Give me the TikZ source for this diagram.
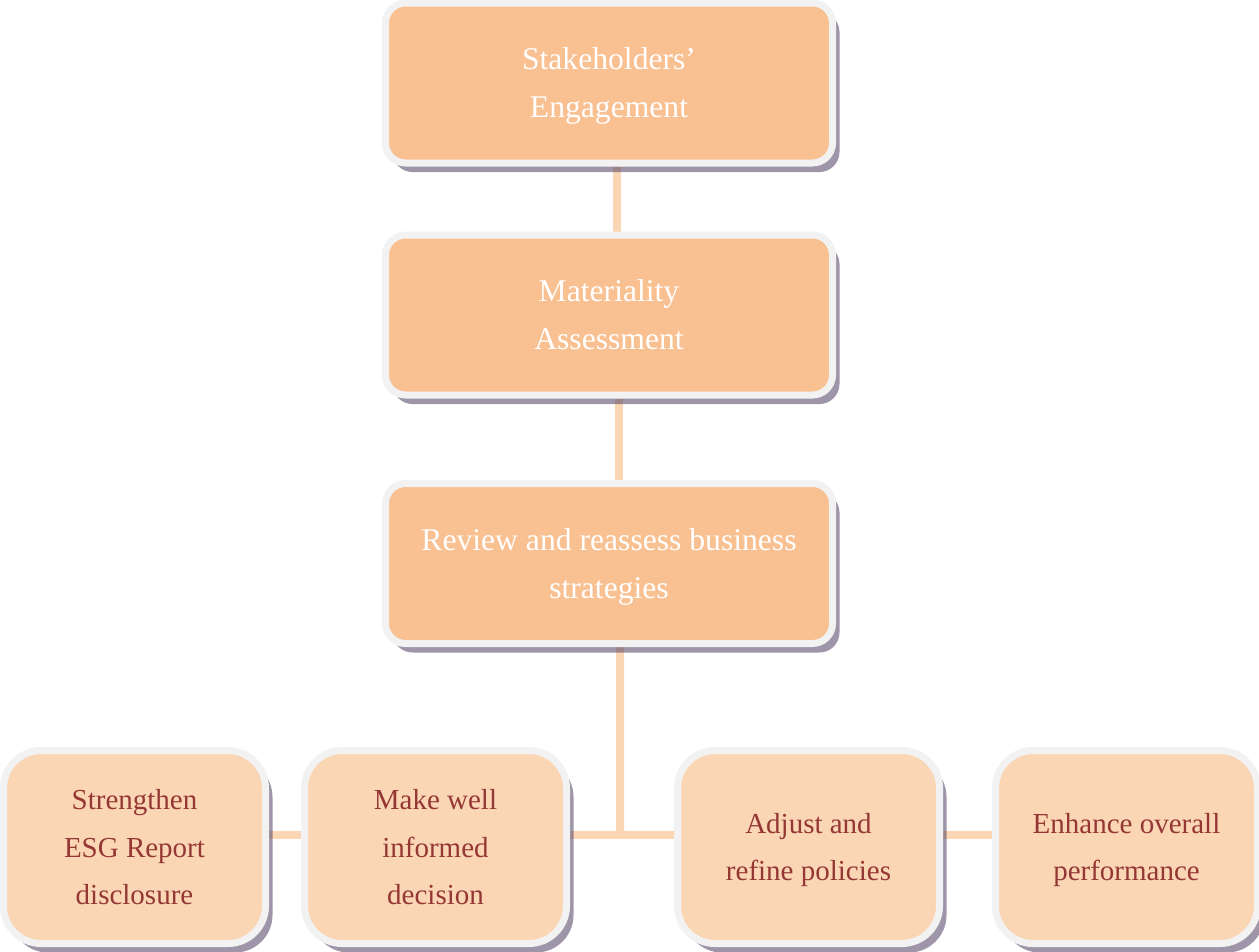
\documentclass[tikz,border=0pt]{standalone}
\usepackage{fontspec}
\setmainfont{Liberation Serif}
\usetikzlibrary{shadows,backgrounds}

\definecolor{topfill}{RGB}{249,192,146}
\definecolor{lowfill}{RGB}{251,214,181}
\definecolor{rim}{RGB}{242,242,242}
\definecolor{shade}{RGB}{93,80,110}
\definecolor{linkc}{RGB}{251,214,181}
\definecolor{darkred}{RGB}{149,55,53}

\begin{document}
\begin{tikzpicture}[
    stagebox/.style={draw=rim, line width=0.14cm, rectangle, rounded corners=0.4cm,
      fill=topfill, text=white, align=center, inner sep=0pt, text depth=0pt,
      minimum width=8.94cm, minimum height=3.2cm,
      font=\fontsize{18}{27.3}\selectfont,
      drop shadow={shadow xshift=0.14cm, shadow yshift=-0.18cm, fill=shade, opacity=0.6}},
    outcomebox/.style={draw=rim, line width=0.14cm, rectangle, rounded corners=0.75cm,
      fill=lowfill, text=darkred, align=center, inner sep=0pt, text depth=0pt,
      minimum width=5.24cm, minimum height=3.86cm,
      font=\fontsize{16.5}{27}\selectfont,
      drop shadow={shadow xshift=0.14cm, shadow yshift=-0.18cm, fill=shade, opacity=0.6}},
    link/.style={draw=linkc, line width=0.16cm}
  ]
        \useasboundingbox (0,0) rectangle (25.18,-19.02);

        % Etapas principais
        \node[stagebox] (eng) at (12.18,-1.66) {Stakeholders’\\Engagement};
        \node[stagebox] (mat) at (12.18,-6.30) {Materiality\\Assessment};
        \node[stagebox] (rev) at (12.18,-11.27) {Review and reassess business\\strategies};

        % Resultados
        \node[outcomebox] (esg) at (2.69,-16.94) {Strengthen\\ESG Report\\disclosure};
        \node[outcomebox] (dec) at (8.71,-16.94) {Make well\\informed\\decision};
        \node[outcomebox] (pol) at (16.17,-16.94) {Adjust and\\refine policies};
        \node[outcomebox] (perf) at (22.53,-16.94) {Enhance overall\\performance};

        % Ponto de ligacao
        \coordinate (hub) at (12.40,-16.70);

        % Ligacoes
        \begin{scope}[on background layer]
          \draw[link] ([xshift=0.16cm]eng.south) -- ([xshift=0.16cm]mat.north);
          \draw[link] ([xshift=0.20cm]mat.south) -- ([xshift=0.20cm]rev.north);
          \draw[link] ([xshift=0.22cm]rev.south) -- (hub);
          \draw[link] ([yshift=0.24cm]dec.east) -- ([yshift=0.24cm]pol.west);
          \draw[link] ([yshift=0.24cm]esg.east) -- ([yshift=0.24cm]dec.west);
          \draw[link] ([yshift=0.24cm]pol.east) -- ([yshift=0.24cm]perf.west);
        \end{scope}
      \end{tikzpicture}
\end{document}
